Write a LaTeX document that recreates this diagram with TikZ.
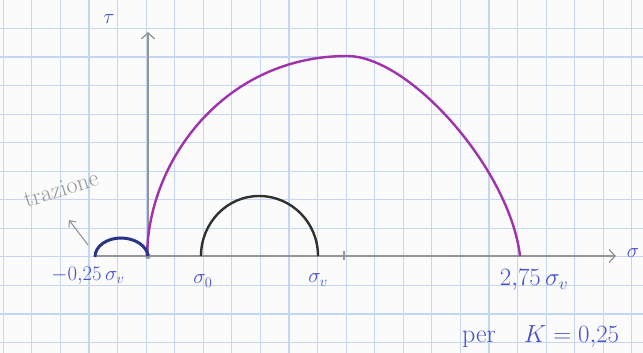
\documentclass[tikz,border=0pt]{standalone}
\usepackage{amsmath,amssymb}
\usepackage{xcolor}
\usepackage{tikz}
\usetikzlibrary{positioning,calc,arrows.meta}

\definecolor{gridblue}{RGB}{196,214,242}
\definecolor{inkblue}{RGB}{70,82,205}
\definecolor{navyink}{RGB}{40,52,135}
\definecolor{mohrpurple}{RGB}{160,50,172}
\definecolor{pencil}{RGB}{150,150,150}
\definecolor{darkink}{RGB}{48,48,48}

\begin{document}
\begin{tikzpicture}[
    x=1pt, y=-1pt,
    every node/.style={inner sep=0pt},
    gridline/.style={gridblue, line width=1.1pt},
    axis/.style={pencil, line width=1.3pt, -{Straight Barb[length=6pt,width=13pt]}},
    circlezero/.style={darkink, line width=2.4pt},
    circleK/.style={mohrpurple, line width=2.4pt},
    circletens/.style={navyink, line width=3pt},
    lab/.style={inkblue, font=\fontsize{20}{24}\selectfont},
    pencillab/.style={pencil, font=\fontsize{24}{28}\selectfont},
]
\useasboundingbox (0,0) rectangle (643,353);
\fill[white!97!gray] (0,0) rectangle (643,353);

% =====================================================================
% Squared paper
% =====================================================================
\foreach \i [evaluate=\i as \x using {3.3+28.57*\i}] in {0,1,...,22} {
    \draw[gridline] (\x,0) -- (\x,353);
}
\foreach \k [evaluate=\k as \y using {28.5+28.55*\k}] in {-1,0,...,11} {
    \draw[gridline] (0,\y) -- (643,\y);
}

% =====================================================================
% Axes sigma / tau
% =====================================================================
\coordinate (O) at (148,256);
\coordinate (sigstart) at (97,256);
\coordinate (sigend) at (616,256);
\coordinate (tauend) at (148,32);
\draw[axis] (sigstart) -- (sigend);
\draw[axis] (O) -- (tauend);
\fill[pencil] (O) circle (3);
\coordinate (centreK) at (344,256);
\draw[pencil, line width=1.3pt] ($(centreK)+(0,-5)$) -- ($(centreK)+(0,4)$);

% =====================================================================
% Mohr circles
% =====================================================================
% circle for K = 0,25 : from 0 to 2,75 sigma_v
\coordinate (Kleft) at (147,256);
\coordinate (Ktop) at (347,56);
\coordinate (Kright) at (520,256);
\draw[circleK] (Kleft) .. controls (148,160) and (225,56) .. (Ktop)
    .. controls (410,56) and (510,170) .. (Kright);

% initial circle: sigma_0 -- sigma_v
\coordinate (Zleft) at (201,256);
\coordinate (Ztop) at (259,196);
\coordinate (Zright) at (318,256);
\draw[circlezero] (Zleft) .. controls (201,223) and (227,196) .. (Ztop)
    .. controls (292,196) and (318,223) .. (Zright);

% tension circle: -0,25 sigma_v -- 0
\coordinate (Tleft) at (95,257);
\coordinate (Ttop) at (121,238);
\draw[circletens] (Tleft) .. controls (95,246) and (107,238) .. (Ttop)
    .. controls (135,238) and (147,246) .. (O);

% =====================================================================
% Labels
% =====================================================================
\node[lab] (tau) at (109,19) {$\tau$};
\node[lab] (sig) at (633,253) {$\sigma$};
\node[lab] (negtens) at (88,276) {$-0{,}25\,\sigma_v$};
\node[lab] (sigzero) at (203,281) {$\sigma_0$};
\node[lab] (sigv) at (318,280) {$\sigma_v$};
\node[lab, font=\fontsize{25}{28}\selectfont] (sigmax) at (534,280) {$2{,}75\,\sigma_v$};
\node[lab, font=\fontsize{26}{30}\selectfont, anchor=west] (perK) at (462,337)
    {per\hspace{28pt}$K=0{,}25$};

\node[pencillab, rotate=17] (trazione) at (61,189) {trazione};
\coordinate (trazfoot) at (88,245);
\coordinate (traztip) at (69,220);
\draw[pencil, line width=1.1pt, -{Straight Barb[length=5pt,width=9pt]}] (trazfoot) -- (traztip);

\end{tikzpicture}
\end{document}
